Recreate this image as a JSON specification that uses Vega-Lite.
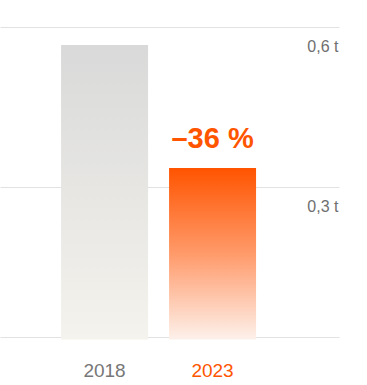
{
  "$schema": "https://vega.github.io/schema/vega-lite/v6.json",
  "width": 339,
  "height": 310,
  "autosize": {"type": "none"},
  "padding": {"left": 0, "top": 27, "right": 28, "bottom": 48},
  "background": "white",
  "config": {"font": "Liberation Sans", "view": {"stroke": null}},
  "data": {"values": [
    {"year": "2018", "value": 0.584, "label": ""},
    {"year": "2023", "value": 0.338, "label": "–36 %"}
  ]},
  "encoding": {
    "x": {
      "field": "year", "type": "nominal", "sort": null,
      "scale": {"paddingInner": 0.1944, "paddingOuter": 0.6667, "align": 0.424},
      "axis": {
        "title": null, "domain": false, "ticks": false, "labelAngle": 0,
        "labelFontSize": 19, "labelPadding": 33, "labelBaseline": "middle",
        "labelColor": {"condition": {"test": "datum.value == '2023'", "value": "#ff5500"}, "value": "#777777"}
      }
    },
    "y": {
      "field": "value", "type": "quantitative",
      "scale": {"domain": [0, 0.62], "nice": false},
      "axis": {
        "title": null, "orient": "right", "domain": false, "ticks": false, "tickSize": 0,
        "values": [0, 0.3, 0.62],
        "labelExpr": "datum.value == 0 ? '' : (datum.value > 0.5 ? '0,6 t' : '0,3 t')",
        "labelAlign": "right", "labelPadding": -1, "labelBaseline": "middle", "labelOffset": 19,
        "labelFontSize": 16, "labelColor": "#6f6f6f",
        "grid": true, "gridColor": "#e2e2e2", "gridWidth": 1
      }
    }
  },
  "layer": [
    {
      "transform": [{"filter": "datum.year == '2018'"}],
      "mark": {"type": "bar", "color": {"gradient": "linear", "x1": 0, "y1": 0, "x2": 0, "y2": 1,
        "stops": [{"offset": 0, "color": "#d9d9d9"}, {"offset": 1, "color": "#f4f3ed"}]}},
      "encoding": {"y2": {"datum": -0.005}}
    },
    {
      "transform": [{"filter": "datum.year == '2023'"}],
      "mark": {"type": "bar", "color": {"gradient": "linear", "x1": 0, "y1": 0, "x2": 0, "y2": 1,
        "stops": [{"offset": 0, "color": "#ff5400"}, {"offset": 0.5, "color": "#ff9a6a"}, {"offset": 1, "color": "#fdf1eb"}]}},
      "encoding": {"y2": {"datum": -0.005}}
    },
    {
      "transform": [{"filter": "datum.year == '2023'"}],
      "mark": {"type": "text", "baseline": "alphabetic", "dy": -20, "fontSize": 29, "fontWeight": "bold", "color": "#ff5500"},
      "encoding": {"text": {"field": "label"}}
    }
  ]
}
